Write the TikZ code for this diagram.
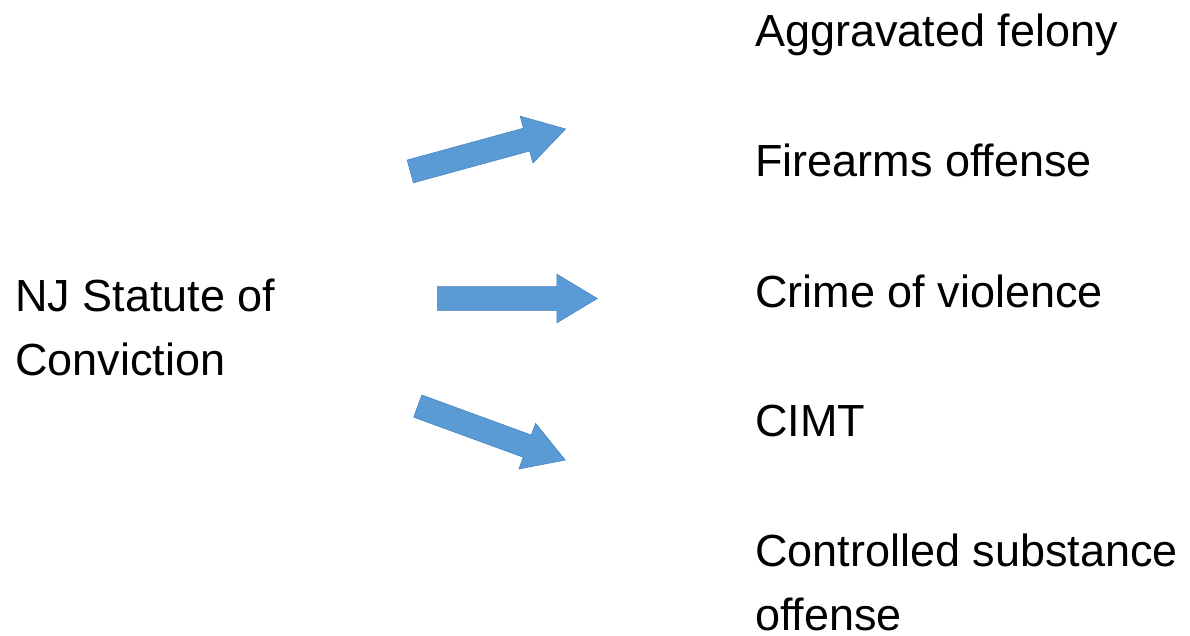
\documentclass[tikz,border=0pt]{standalone}
\usepackage{fontspec}
\setmainfont{Liberation Sans}
\usetikzlibrary{shapes.arrows}
\definecolor{arrowblue}{RGB}{91,155,213}
\definecolor{arrowedge}{RGB}{72,132,192}

\begin{document}
\begin{tikzpicture}[x=1pt,y=-1pt,
  label/.style={inner sep=0pt,anchor=base west,align=left,font=\fontsize{45}{64}\selectfont},
  blockarrow/.style={single arrow,fill=arrowblue,draw=arrowedge,line width=0.6pt,
    inner sep=11.5pt,single arrow head extend=12.5pt,single arrow tip angle=62,
    anchor=tail}]
\useasboundingbox (0,0) rectangle (1190,636);
\node[label] (conv) at (15,375) {NJ Statute of\\Conviction};
\node[label] (aggr) at (755,47) {Aggravated felony};
\node[label] (fire) at (755,177) {Firearms offense};
\node[label] (crime) at (755,307) {Crime of violence};
\node[label] (cimt) at (755,436) {CIMT};
\node[label] (drug) at (755,630) {Controlled substance\\offense};
\node[blockarrow,minimum height=161pt,rotate=15.3] (arrUp) at (410,171.5) {};
\node[blockarrow,minimum height=160pt] (arrMid) at (437,298.5) {};
\node[blockarrow,minimum height=157pt,rotate=-20.1] (arrDown) at (417.5,406) {};
\end{tikzpicture}
\end{document}
